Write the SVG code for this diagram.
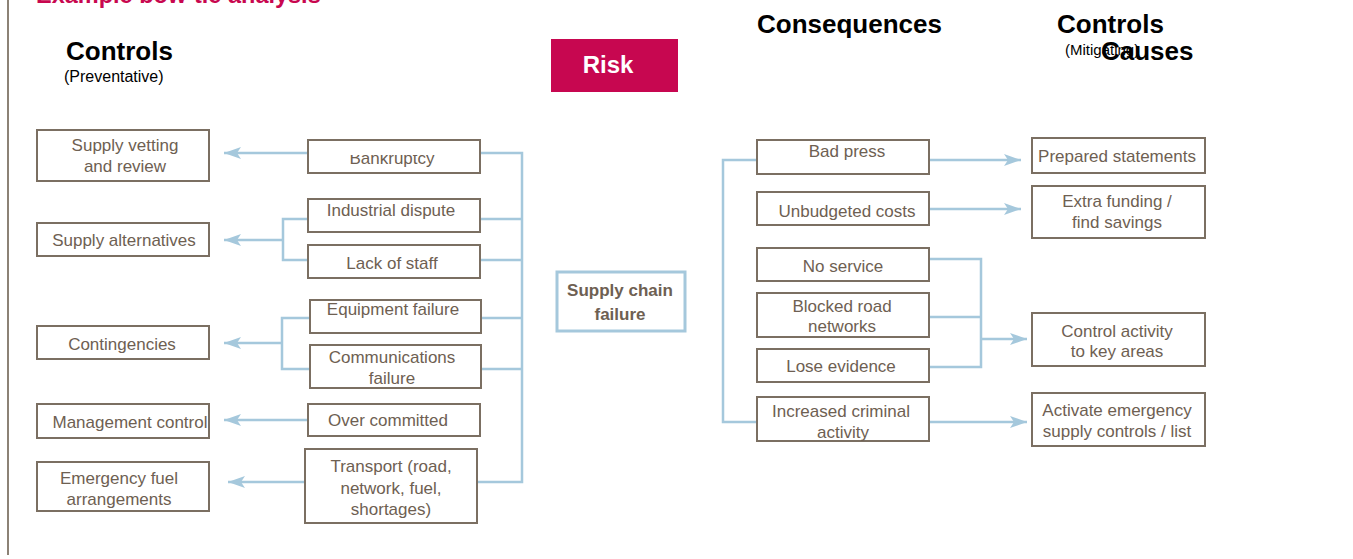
<svg xmlns="http://www.w3.org/2000/svg" width="1353" height="559" viewBox="0 0 1353 559">
<style>
.box{fill:#fff;stroke:#7b6f62;stroke-width:2}
.t{font-family:"Liberation Sans",Arial,sans-serif;font-size:17px;fill:#6e6052;text-anchor:middle}
.h{font-family:"Liberation Sans",Arial,sans-serif;font-size:26px;font-weight:bold;fill:#000}
.s{font-family:"Liberation Sans",Arial,sans-serif;fill:#000}
.c{fill:none;stroke:#a5c8dc;stroke-width:2.5}
</style>
<defs>
<marker id="ah" markerUnits="userSpaceOnUse" markerWidth="18" markerHeight="14" viewBox="-18 -7 18 14" refX="0" refY="0" orient="auto">
<path d="M0,0 L-17,-6 L-13,0 L-17,6 Z" fill="#a5c8dc"/>
</marker>
<clipPath id="clipB"><rect x="300" y="155" width="200" height="30"/></clipPath>
</defs>
<rect width="1353" height="559" fill="#fff"/>
<line x1="8" y1="0" x2="8" y2="555" stroke="#8c8276" stroke-width="2"/>
<text x="36" y="3" font-family="Liberation Sans,Arial,sans-serif" font-size="23.5" font-weight="bold" fill="#c8074f">Example bow-tie analysis</text>

<g id="headings">
<text class="h" x="66" y="60">Controls</text>
<text class="s" x="64" y="82" font-size="16">(Preventative)</text>
<text class="h" x="757" y="33">Consequences</text>
<text class="h" x="1057" y="33">Controls</text>
<text class="s" x="1065" y="55" font-size="15">(Mitigating)</text>
<text class="h" x="1101" y="60">Causes</text>
</g>
<g id="risk">
<rect x="551" y="39" width="127" height="53" fill="#c70750"/>
<text x="608" y="73" font-family="Liberation Sans,Arial,sans-serif" font-size="24" font-weight="bold" fill="#fff" text-anchor="middle">Risk</text>
</g>

<g id="connectors">
<path class="c" d="M480,153 H522 V482 H477 M480,219 H522 M480,260 H522 M481,318 H522 M481,369 H522"/>
<line class="c" x1="308" y1="153" x2="224" y2="153" marker-end="url(#ah)"/>
<path class="c" d="M308,219 H283 V260 H308"/>
<line class="c" x1="283" y1="240" x2="224" y2="240" marker-end="url(#ah)"/>
<path class="c" d="M310,318 H282 V369 H310"/>
<line class="c" x1="282" y1="343" x2="224" y2="343" marker-end="url(#ah)"/>
<line class="c" x1="308" y1="420" x2="224" y2="420" marker-end="url(#ah)"/>
<line class="c" x1="305" y1="482" x2="228" y2="482" marker-end="url(#ah)"/>
<path class="c" d="M757,160 H723 V422 H757"/>
<line class="c" x1="929" y1="160" x2="1021" y2="160" marker-end="url(#ah)"/>
<line class="c" x1="929" y1="209" x2="1021" y2="209" marker-end="url(#ah)"/>
<path class="c" d="M929,259 H981 V367 H929 M929,317 H981"/>
<line class="c" x1="981" y1="339" x2="1027" y2="339" marker-end="url(#ah)"/>
<line class="c" x1="929" y1="422" x2="1027" y2="422" marker-end="url(#ah)"/>
</g>

<g id="ctl-vetting"><rect class="box" x="37" y="130" width="172" height="51"/><text class="t" x="125" y="151">Supply vetting</text><text class="t" x="125" y="172">and review</text></g>
<g id="ctl-alternatives"><rect class="box" x="37" y="223" width="172" height="33"/><text class="t" x="124" y="246">Supply alternatives</text></g>
<g id="ctl-contingencies"><rect class="box" x="37" y="326" width="172" height="33"/><text class="t" x="122" y="350">Contingencies</text></g>
<g id="ctl-management"><rect class="box" x="37" y="404" width="172" height="34"/><text class="t" x="130" y="428">Management control</text></g>
<g id="ctl-fuel"><rect class="box" x="37" y="462" width="172" height="49"/><text class="t" x="119" y="484">Emergency fuel</text><text class="t" x="119" y="505">arrangements</text></g>

<g id="cause-bankruptcy"><rect class="box" x="308" y="140" width="172" height="33"/><text class="t" x="392" y="164" clip-path="url(#clipB)">Bankruptcy</text></g>
<g id="cause-industrial"><rect class="box" x="308" y="199" width="172" height="33"/><text class="t" x="391" y="216">Industrial  dispute</text></g>
<g id="cause-staff"><rect class="box" x="308" y="245" width="172" height="33"/><text class="t" x="392" y="269">Lack of staff</text></g>
<g id="cause-equipment"><rect class="box" x="310" y="300" width="171" height="33"/><text class="t" x="393" y="315">Equipment failure</text></g>
<g id="cause-communications"><rect class="box" x="310" y="345" width="171" height="43"/><text class="t" x="392" y="363">Communications</text><text class="t" x="392" y="384">failure</text></g>
<g id="cause-overcommitted"><rect class="box" x="308" y="404" width="172" height="32"/><text class="t" x="388" y="426">Over committed</text></g>
<g id="cause-transport"><rect class="box" x="305" y="449" width="172" height="74"/><text class="t" x="391" y="472">Transport (road,</text><text class="t" x="391" y="494">network, fuel,</text><text class="t" x="391" y="515">shortages)</text></g>

<g id="risk-event"><rect x="557" y="272" width="128" height="59" fill="#fff" stroke="#a5c8dc" stroke-width="3"/><text class="t" x="620" y="296" font-weight="bold">Supply chain</text><text class="t" x="620" y="320" font-weight="bold">failure</text></g>

<g id="con-badpress"><rect class="box" x="757" y="140" width="172" height="34"/><text class="t" x="847" y="157">Bad press</text></g>
<g id="con-unbudgeted"><rect class="box" x="757" y="192" width="172" height="33"/><text class="t" x="847" y="217">Unbudgeted costs</text></g>
<g id="con-noservice"><rect class="box" x="757" y="248" width="172" height="33"/><text class="t" x="843" y="272">No service</text></g>
<g id="con-blocked"><rect class="box" x="757" y="293" width="172" height="44"/><text class="t" x="842" y="312">Blocked road</text><text class="t" x="842" y="332">networks</text></g>
<g id="con-evidence"><rect class="box" x="757" y="349" width="172" height="33"/><text class="t" x="841" y="372">Lose evidence</text></g>
<g id="con-criminal"><rect class="box" x="757" y="397" width="172" height="44"/><text class="t" x="841" y="417">Increased criminal</text><text class="t" x="843" y="438">activity</text></g>

<g id="mit-statements"><rect class="box" x="1032" y="138" width="173" height="35"/><text class="t" x="1117" y="162">Prepared statements</text></g>
<g id="mit-funding"><rect class="box" x="1032" y="186" width="173" height="52"/><text class="t" x="1117" y="207">Extra funding /</text><text class="t" x="1117" y="228">find savings</text></g>
<g id="mit-control"><rect class="box" x="1032" y="313" width="173" height="53"/><text class="t" x="1117" y="337">Control activity</text><text class="t" x="1117" y="357">to key areas</text></g>
<g id="mit-emergency"><rect class="box" x="1032" y="393" width="173" height="53"/><text class="t" x="1117" y="416">Activate emergency</text><text class="t" x="1117" y="437">supply controls / list</text></g>
</svg>
